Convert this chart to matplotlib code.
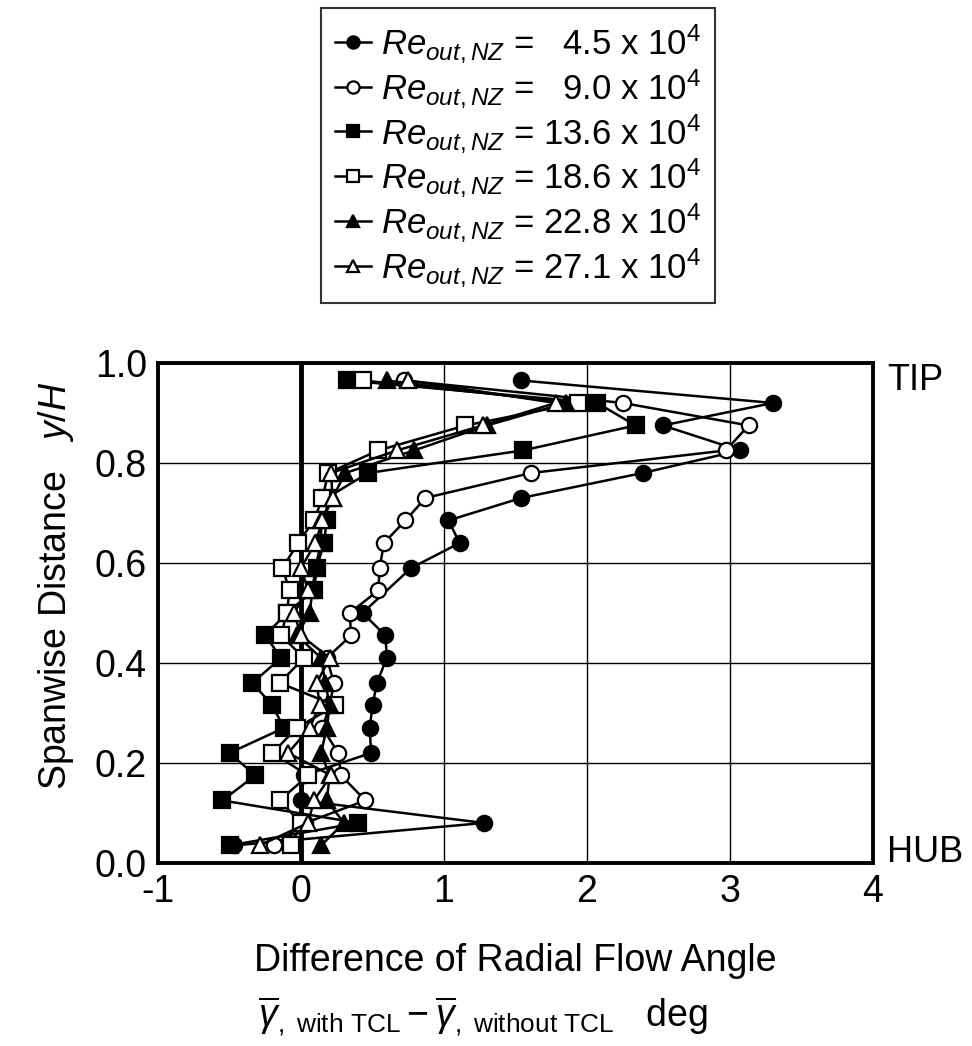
import numpy as np
import matplotlib.pyplot as plt

plt.rcParams['font.family'] = ['Liberation Sans', 'DejaVu Sans']
plt.rcParams['mathtext.fontset'] = 'custom'
plt.rcParams['mathtext.rm'] = 'Liberation Sans'
plt.rcParams['mathtext.it'] = 'Liberation Sans:italic'

# spanwise measurement positions y/H
y_pos = [0.035, 0.08, 0.125, 0.175, 0.22, 0.27, 0.315, 0.36, 0.41, 0.455, 0.5,
         0.545, 0.59, 0.64, 0.685, 0.73, 0.78, 0.825, 0.875, 0.92, 0.965]

nan = np.nan
re_45 = [-0.47, 1.28, 0.0, 0.02, 0.49, 0.48, 0.50, 0.53, 0.60, 0.59, 0.43,
         nan, 0.77, 1.11, 1.03, 1.54, 2.39, 3.07, 2.53, 3.30, 1.54]
re_90 = [-0.19, 0.03, 0.45, 0.28, 0.26, 0.15, 0.20, 0.23, 0.18, 0.35, 0.34,
         0.54, 0.55, 0.58, 0.73, 0.87, 1.61, 2.97, 3.13, 2.25, 0.72]
re_136 = [-0.50, 0.40, -0.55, -0.32, -0.50, -0.12, -0.20, -0.34, -0.14, -0.25, -0.10,
          0.09, 0.11, 0.16, 0.18, 0.18, 0.47, 1.55, 2.34, 2.07, 0.32]
re_186 = [-0.07, 0.0, -0.15, 0.05, -0.20, -0.03, 0.24, -0.15, 0.02, -0.14, -0.10,
          -0.08, -0.13, -0.02, 0.09, 0.15, 0.19, 0.54, 1.15, 1.94, 0.43]
re_228 = [0.14, 0.30, 0.18, 0.20, 0.14, 0.18, 0.20, 0.17, 0.14, -0.03, 0.06,
          0.08, 0.10, 0.14, 0.14, 0.22, 0.31, 0.79, 1.30, 1.85, 0.60]
re_271 = [-0.29, 0.05, 0.09, 0.21, -0.09, 0.06, 0.13, 0.11, 0.20, 0.0, -0.05,
          0.05, 0.0, 0.10, 0.15, 0.22, 0.21, 0.67, 1.27, 1.78, 0.75]

labels = [r'$Re_{out,NZ}$ =   4.5 x 10$^4$',
          r'$Re_{out,NZ}$ =   9.0 x 10$^4$',
          r'$Re_{out,NZ}$ = 13.6 x 10$^4$',
          r'$Re_{out,NZ}$ = 18.6 x 10$^4$',
          r'$Re_{out,NZ}$ = 22.8 x 10$^4$',
          r'$Re_{out,NZ}$ = 27.1 x 10$^4$']
series = [re_45, re_90, re_136, re_186, re_228, re_271]
markers = ['o', 'o', 's', 's', '^', '^']
fills = ['black', 'white', 'black', 'white', 'black', 'white']

fig = plt.figure(figsize=(9.72, 10.46), dpi=100)
ax = fig.add_axes([0.1626, 0.175, 0.7356, 0.478])

y_arr = np.array(y_pos)
handles = []
for vals, mk, fc, lab in zip(series, markers, fills, labels):
    v = np.array(vals, dtype=float)
    ok = ~np.isnan(v)
    h, = ax.plot(v[ok], y_arr[ok], marker=mk, color='black', mfc=fc, mec='black',
                 markersize=11, mew=1.6, lw=1.8, label=lab, zorder=3)
    handles.append(h)

ax.axvline(0, color='black', lw=3.5, zorder=2)
ax.set_xlim(-1, 4)
ax.set_ylim(0, 1)
ax.set_xticks([-1, 0, 1, 2, 3, 4])
ax.set_xticklabels(['-1', '0', '1', '2', '3', '4'])
ax.set_yticks([0, 0.2, 0.4, 0.6, 0.8, 1.0])
ax.set_yticklabels(['0.0', '0.2', '0.4', '0.6', '0.8', '1.0'])
ax.tick_params(length=0, labelsize=27, pad=8)
ax.grid(True, color='black', lw=1.0)
for s in ax.spines.values():
    s.set_linewidth(2.8)

ax.set_ylabel(r'Spanwise Distance   $y/H$', fontsize=27)
ax.yaxis.set_label_coords(-0.115, 0.555)
ax.set_xlabel('Difference of Radial Flow Angle', fontsize=27, labelpad=24)

ax.text(1.02, 0.965, 'TIP', transform=ax.transAxes, fontsize=26, va='center', ha='left')
ax.text(1.02, 0.02, 'HUB', transform=ax.transAxes, fontsize=26, va='center', ha='left')

fig.text(0.497, 0.028,
         r'$\overline{\gamma}_{\rm ,\ with\ TCL}-\overline{\gamma}_{\rm ,\ without\ TCL}$   deg',
         fontsize=27, ha='center', va='center')

leg = fig.legend(handles=handles, loc='upper center', bbox_to_anchor=(0.533, 0.992),
                 fontsize=25, frameon=True, fancybox=False, edgecolor='black',
                 handlelength=1.05, handletextpad=0.3, labelspacing=0.06,
                 borderpad=0.4, borderaxespad=0, markerscale=0.8)
leg.get_frame().set_linewidth(1.5)

fig.savefig('out.png', dpi=100)
